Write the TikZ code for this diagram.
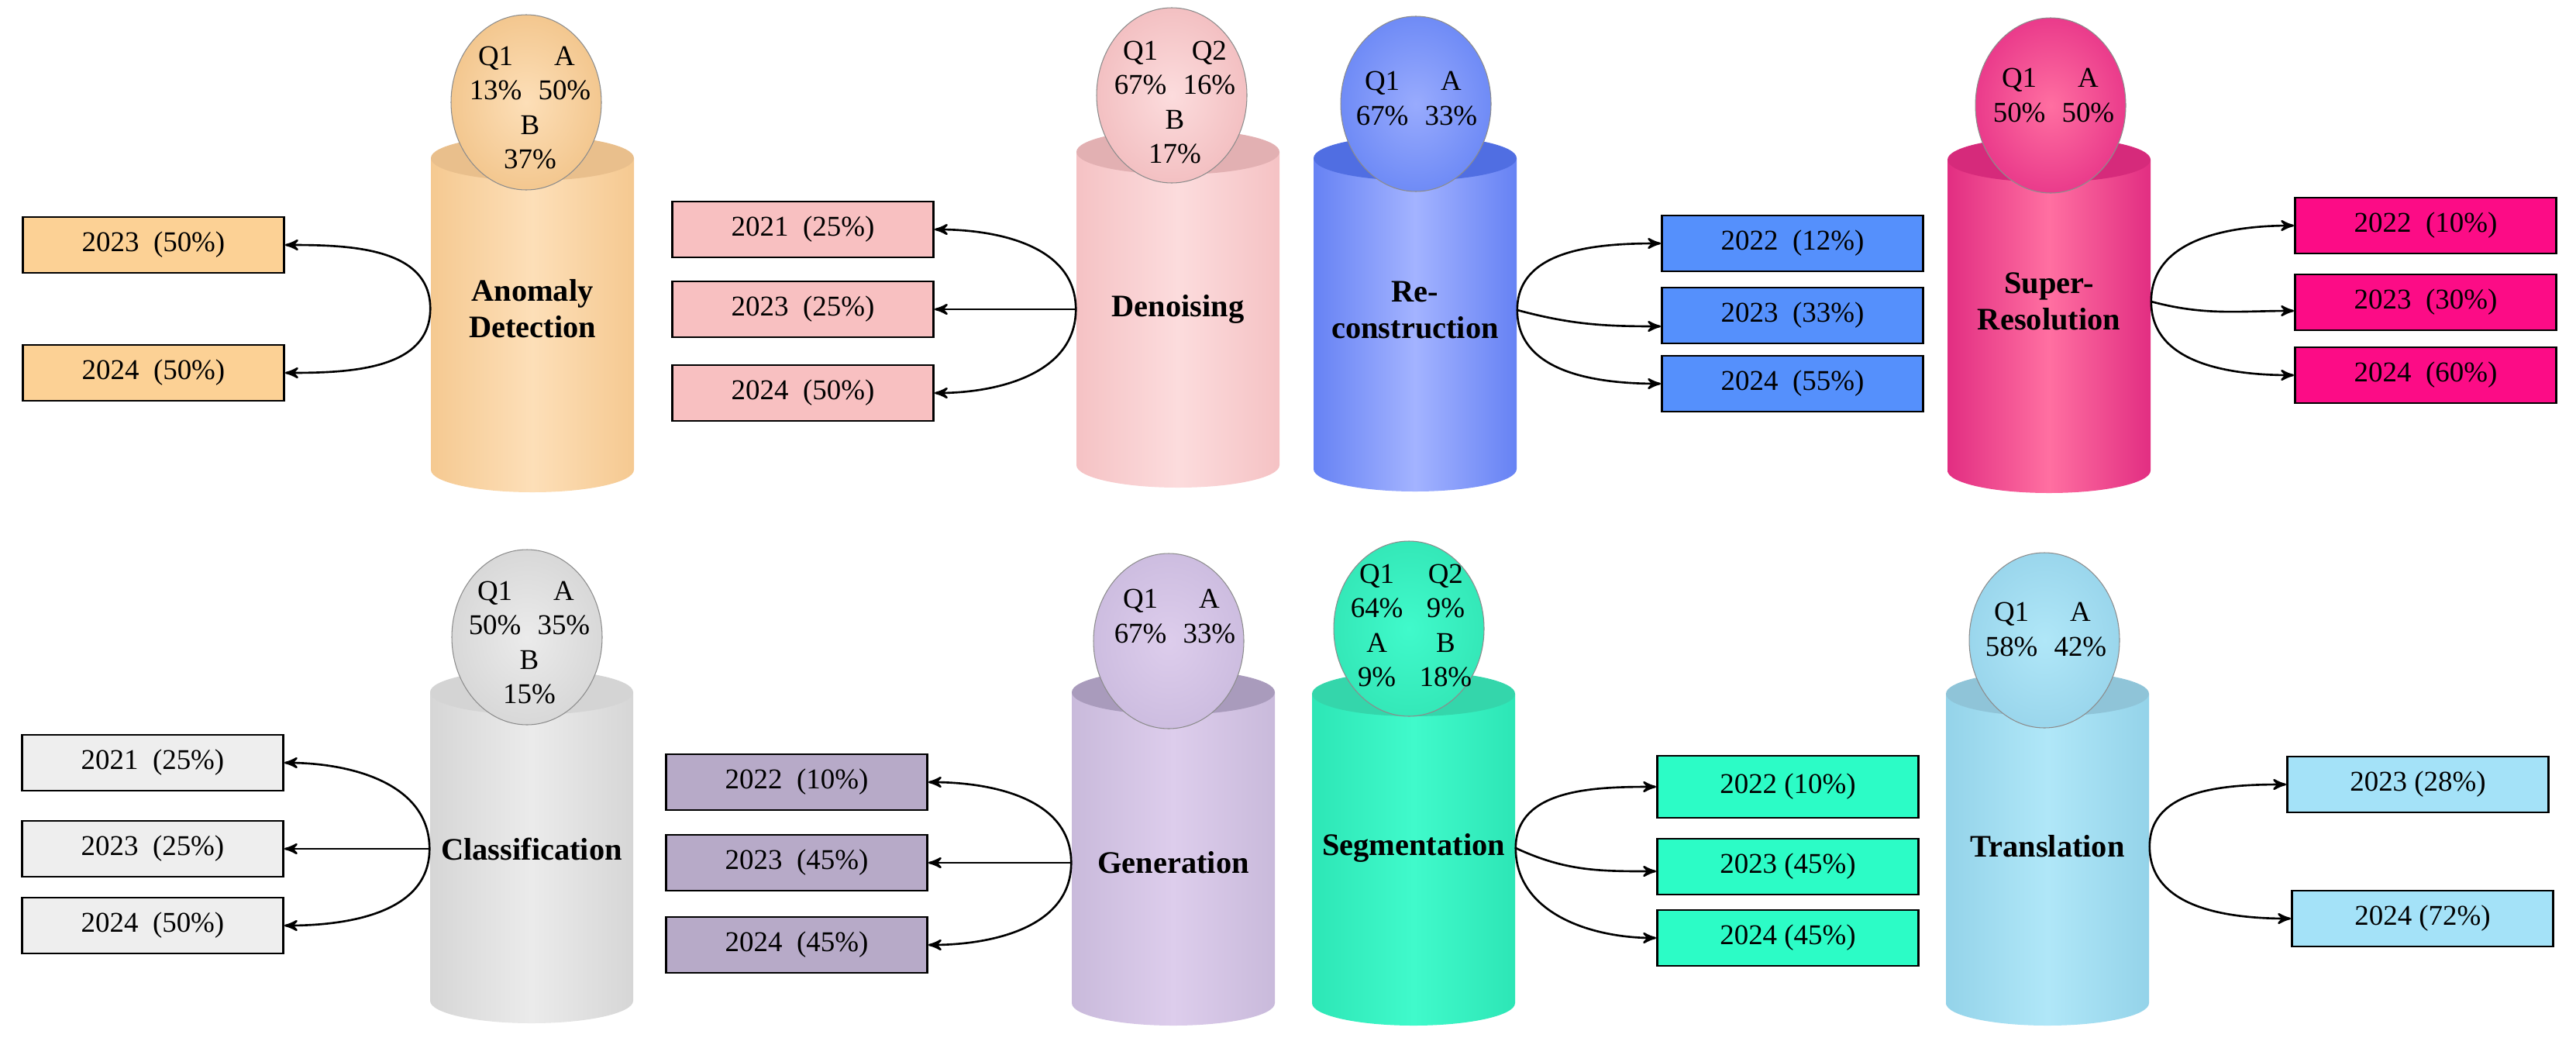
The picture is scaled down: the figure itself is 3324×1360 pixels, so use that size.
\documentclass[tikz,border=0pt]{standalone}
\usepackage{fontspec}
\setmainfont{Liberation Serif}
\usetikzlibrary{arrows}
\setlength{\tabcolsep}{3pt}
\definecolor{adbox}{HTML}{FCD195}
\definecolor{adside}{HTML}{F5C991}
\definecolor{admid}{HTML}{FDDFB8}
\definecolor{adtop}{HTML}{E9BF8C}
\definecolor{adegg}{HTML}{F3C78F}
\definecolor{dnbox}{HTML}{F8C0C1}
\definecolor{dnside}{HTML}{F5C2C4}
\definecolor{dnmid}{HTML}{FCDCDD}
\definecolor{dntop}{HTML}{E2B0B2}
\definecolor{dnegg}{HTML}{F3C0C2}
\definecolor{rcbox}{HTML}{5590FC}
\definecolor{rcside}{HTML}{6682F4}
\definecolor{rcmid}{HTML}{A3B3FF}
\definecolor{rctop}{HTML}{506EE2}
\definecolor{rcegg}{HTML}{6F8BF6}
\definecolor{srbox}{HTML}{FC0C86}
\definecolor{srside}{HTML}{E22E82}
\definecolor{srmid}{HTML}{FF6FA1}
\definecolor{srtop}{HTML}{D62A7B}
\definecolor{sregg}{HTML}{EA3B8B}
\definecolor{clbox}{HTML}{EEEEEE}
\definecolor{clside}{HTML}{D6D6D6}
\definecolor{clmid}{HTML}{EBEBEB}
\definecolor{cltop}{HTML}{D4D4D4}
\definecolor{clegg}{HTML}{D8D8D8}
\definecolor{gnbox}{HTML}{B7AAC8}
\definecolor{gnside}{HTML}{C9BADB}
\definecolor{gnmid}{HTML}{DDCDEC}
\definecolor{gntop}{HTML}{A99BBC}
\definecolor{gnegg}{HTML}{CDBDE0}
\definecolor{sgbox}{HTML}{2CFCC6}
\definecolor{sgside}{HTML}{2DE6B6}
\definecolor{sgmid}{HTML}{40FACB}
\definecolor{sgtop}{HTML}{34D6AB}
\definecolor{sgegg}{HTML}{34E8B8}
\definecolor{trbox}{HTML}{A4E2F8}
\definecolor{trside}{HTML}{94D3E9}
\definecolor{trmid}{HTML}{B0E7F8}
\definecolor{trtop}{HTML}{8FC4D8}
\definecolor{tregg}{HTML}{9AD6EC}
\tikzset{
	yearbox/.style = {
		draw=black,
		line width=0.8pt,
		inner sep=0pt,
		minimum width=3.37cm,
		minimum height=0.72cm,
		font=\fontsize{10.5}{12.6}\selectfont
	},
	task/.style = {
		align=center,
		inner sep=0pt,
		minimum width=2.62cm,
		font=\fontsize{11.5}{13.4}\selectfont\bfseries
	},
	share/.style = {
		inner sep=0pt,
		font=\fontsize{10.5}{12.6}\selectfont
	},
	egg/.style = {
		draw=black!45,
		line width=0.3pt
	},
	link/.style = {
		->,
		line width=0.75pt
	}
}
\begin{document}
\begin{tikzpicture}[x=0.01cm, y=0.01cm, >=stealth']
\useasboundingbox (0,0) rectangle (3324,-1360);

\shade[left color=adside, right color=adside, middle color=admid] (556,-204) -- (556,-606) arc[start angle=180, end angle=360, x radius=131, y radius=29] -- (818,-204) -- cycle;
\fill[adtop] (687,-204) ellipse [x radius=131, y radius=29];
\shadedraw[egg, inner color=admid, outer color=adegg] (679,-132) ellipse [x radius=97, y radius=113];
\node[share] (adq) at (684,-142) {\begin{tabular}{cc}Q1 & A\\ 13\% & 50\%\\ \multicolumn{2}{c}{B}\\ \multicolumn{2}{c}{37\%}\end{tabular}};
\node[task] (ad) at (687,-398) {Anomaly\\Detection};
\node[yearbox, fill=adbox] (ad23) at (198,-316) {2023\ \ (50\%)};
\node[yearbox, fill=adbox] (ad24) at (198,-481) {2024\ \ (50\%)};
\draw[link] (ad.west) to[out=90, in=0] (ad23.east);
\draw[link] (ad.west) to[out=-90, in=0] (ad24.east);

\shade[left color=dnside, right color=dnside, middle color=dnmid] (1389,-196) -- (1389,-600) arc[start angle=180, end angle=360, x radius=131, y radius=29] -- (1651,-196) -- cycle;
\fill[dntop] (1520,-196) ellipse [x radius=131, y radius=29];
\shadedraw[egg, inner color=dnmid, outer color=dnegg] (1512,-123) ellipse [x radius=97, y radius=113];
\node[share] (dnq) at (1516,-135) {\begin{tabular}{cc}Q1 & Q2\\ 67\% & 16\%\\ \multicolumn{2}{c}{B}\\ \multicolumn{2}{c}{17\%}\end{tabular}};
\node[task] (dn) at (1520,-399) {Denoising};
\node[yearbox, fill=dnbox] (dn21) at (1036,-296) {2021\ \ (25\%)};
\node[yearbox, fill=dnbox] (dn23) at (1036,-399) {2023\ \ (25\%)};
\node[yearbox, fill=dnbox] (dn24) at (1036,-507) {2024\ \ (50\%)};
\draw[link] (dn.west) to[out=90, in=0] (dn21.east);
\draw[link] (dn.west) -- (dn23.east);
\draw[link] (dn.west) to[out=-90, in=0] (dn24.east);

\shade[left color=rcside, right color=rcside, middle color=rcmid] (1695,-204) -- (1695,-605) arc[start angle=180, end angle=360, x radius=131, y radius=29] -- (1957,-204) -- cycle;
\fill[rctop] (1826,-204) ellipse [x radius=131, y radius=29];
\shadedraw[egg, inner color=rcmid!80!rcegg, outer color=rcegg] (1827,-134) ellipse [x radius=97, y radius=113];
\node[share] (rcq) at (1828,-130) {\begin{tabular}{cc}Q1 & A\\ 67\% & 33\%\end{tabular}};
\node[task] (rc) at (1826,-400) {Re-\\construction};
\node[yearbox, fill=rcbox] (rc22) at (2313,-314) {2022\ \ (12\%)};
\node[yearbox, fill=rcbox] (rc23) at (2313,-407) {2023\ \ (33\%)};
\node[yearbox, fill=rcbox] (rc24) at (2313,-495) {2024\ \ (55\%)};
\draw[link] (rc.east) to[out=90, in=180] (rc22.west);
\draw[link] (rc.east) to[out=-15, in=180] ([yshift=-0.14cm]rc23.west);
\draw[link] (rc.east) to[out=-90, in=180] (rc24.west);

\shade[left color=srside, right color=srside, middle color=srmid] (2513,-206) -- (2513,-607) arc[start angle=180, end angle=360, x radius=131, y radius=29] -- (2775,-206) -- cycle;
\fill[srtop] (2644,-206) ellipse [x radius=131, y radius=29];
\shadedraw[egg, inner color=srmid, outer color=sregg] (2646,-136) ellipse [x radius=97, y radius=113];
\node[share] (srq) at (2650,-126) {\begin{tabular}{cc}Q1 & A\\ 50\% & 50\%\end{tabular}};
\node[task] (sr) at (2644,-389) {Super-\\Resolution};
\node[yearbox, fill=srbox] (sr22) at (3130,-291) {2022\ \ (10\%)};
\node[yearbox, fill=srbox] (sr23) at (3130,-390) {2023\ \ (30\%)};
\node[yearbox, fill=srbox] (sr24) at (3130,-484) {2024\ \ (60\%)};
\draw[link] (sr.east) to[out=90, in=180] (sr22.west);
\draw[link] (sr.east) to[out=-15, in=180] ([yshift=-0.11cm]sr23.west);
\draw[link] (sr.east) to[out=-90, in=180] (sr24.west);

\shade[left color=clside, right color=clside, middle color=clmid] (555,-893) -- (555,-1291) arc[start angle=180, end angle=360, x radius=131, y radius=29] -- (817,-893) -- cycle;
\fill[cltop] (686,-893) ellipse [x radius=131, y radius=29];
\shadedraw[egg, inner color=clmid, outer color=clegg] (680,-822) ellipse [x radius=97, y radius=113];
\node[share] (clq) at (683,-832) {\begin{tabular}{cc}Q1 & A\\ 50\% & 35\%\\ \multicolumn{2}{c}{B}\\ \multicolumn{2}{c}{15\%}\end{tabular}};
\node[task] (cl) at (686,-1095) {Classification};
\node[yearbox, fill=clbox] (cl21) at (197,-984) {2021\ \ (25\%)};
\node[yearbox, fill=clbox] (cl23) at (197,-1095) {2023\ \ (25\%)};
\node[yearbox, fill=clbox] (cl24) at (197,-1194) {2024\ \ (50\%)};
\draw[link] (cl.west) to[out=90, in=0] (cl21.east);
\draw[link] (cl.west) -- (cl23.east);
\draw[link] (cl.west) to[out=-90, in=0] (cl24.east);

\shade[left color=gnside, right color=gnside, middle color=gnmid] (1383,-893) -- (1383,-1294) arc[start angle=180, end angle=360, x radius=131, y radius=29] -- (1645,-893) -- cycle;
\fill[gntop] (1514,-893) ellipse [x radius=131, y radius=29];
\shadedraw[egg, inner color=gnmid, outer color=gnegg] (1508,-827) ellipse [x radius=97, y radius=113];
\node[share] (gnq) at (1516,-798) {\begin{tabular}{cc}Q1 & A\\ 67\% & 33\%\end{tabular}};
\node[task] (gn) at (1514,-1113) {Generation};
\node[yearbox, fill=gnbox] (gn22) at (1028,-1009) {2022\ \ (10\%)};
\node[yearbox, fill=gnbox] (gn23) at (1028,-1113) {2023\ \ (45\%)};
\node[yearbox, fill=gnbox] (gn24) at (1028,-1219) {2024\ \ (45\%)};
\draw[link] (gn.west) to[out=90, in=0] (gn22.east);
\draw[link] (gn.west) -- (gn23.east);
\draw[link] (gn.west) to[out=-90, in=0] (gn24.east);

\shade[left color=sgside, right color=sgside, middle color=sgmid] (1693,-895) -- (1693,-1294) arc[start angle=180, end angle=360, x radius=131, y radius=29] -- (1955,-895) -- cycle;
\fill[sgtop] (1824,-895) ellipse [x radius=131, y radius=29];
\shadedraw[egg, inner color=sgmid, outer color=sgegg] (1818,-811) ellipse [x radius=97, y radius=113];
\node[share] (sgq) at (1821,-810) {\begin{tabular}{cc}Q1 & Q2\\ 64\% & 9\%\\ A & B\\ 9\% & 18\%\end{tabular}};
\node[task] (sg) at (1824,-1094) {Segmentation};
\node[yearbox, fill=sgbox, minimum height=0.8cm] (sg22) at (2307,-1015) {2022 (10\%)};
\node[yearbox, fill=sgbox] (sg23) at (2307,-1118) {2023 (45\%)};
\node[yearbox, fill=sgbox] (sg24) at (2307,-1210) {2024 (45\%)};
\draw[link] (sg.east) to[out=90, in=180] (sg22.west);
\draw[link] (sg.east) to[out=-25, in=180] ([yshift=-0.06cm]sg23.west);
\draw[link] (sg.east) to[out=-90, in=180] (sg24.west);

\shade[left color=trside, right color=trside, middle color=trmid] (2511,-895) -- (2511,-1294) arc[start angle=180, end angle=360, x radius=131, y radius=29] -- (2773,-895) -- cycle;
\fill[trtop] (2642,-895) ellipse [x radius=131, y radius=29];
\shadedraw[egg, inner color=trmid, outer color=tregg] (2638,-826) ellipse [x radius=97, y radius=113];
\node[share] (trq) at (2640,-815) {\begin{tabular}{cc}Q1 & A\\ 58\% & 42\%\end{tabular}};
\node[task] (tr) at (2642,-1092) {Translation};
\node[yearbox, fill=trbox] (tr23) at (3120,-1012) {2023 (28\%)};
\node[yearbox, fill=trbox] (tr24) at (3126,-1185) {2024 (72\%)};
\draw[link] (tr.east) to[out=90, in=180] (tr23.west);
\draw[link] (tr.east) to[out=-90, in=180] (tr24.west);
\end{tikzpicture}
\end{document}
